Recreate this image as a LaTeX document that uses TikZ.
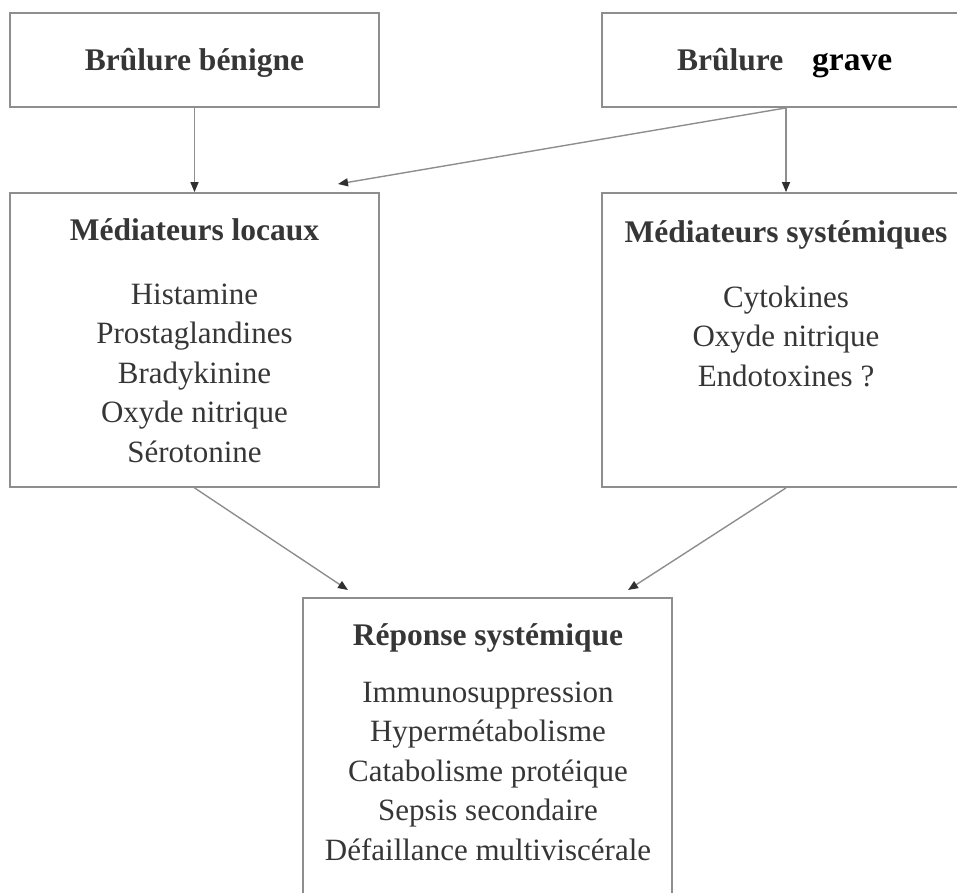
\documentclass[tikz,border=0pt]{standalone}
\usepackage{fontspec}
\setmainfont{Liberation Serif}
\usetikzlibrary{positioning, arrows.meta}
\definecolor{linegray}{HTML}{8E8E8E}
\definecolor{textgray}{HTML}{363636}
\definecolor{tipgray}{HTML}{303030}

\begin{document}
\begin{tikzpicture}[x=1pt, y=-1pt,
  box/.style={draw=linegray, line width=1.8pt, minimum width=369pt, inner sep=0pt},
  head/.style={font=\fontsize{31.5}{38}\selectfont\bfseries, text=textgray, anchor=base, inner sep=0pt},
  item/.style={font=\fontsize{31}{39.5}\selectfont, text=textgray, anchor=base, inner sep=0pt},
  link/.style={draw=linegray, line width=1.4pt, -{Triangle[length=10pt,width=8pt,color=tipgray]}}]
\useasboundingbox (0,0) rectangle (957,892);
\clip (0,0) rectangle (957,892);
% boxes
\node [box, minimum height=94pt] (benigne) at (194.5,60) {};
\node [box, minimum height=94pt, minimum width=368pt] (grave) at (786,60) {};
\node [box, minimum height=294pt] (locaux) at (194.5,340) {};
\node [box, minimum height=294pt, minimum width=368pt] (systemiques) at (786,340) {};
\node [box, minimum height=324pt] (reponse) at (487.5,760) {};
% free ends
\coordinate (locin) at (338,184);
\coordinate (repleft) at (348,590);
\coordinate (repright) at (628,590);
% arrows
\draw [link] (benigne) -- (locaux);
\draw [link] (grave) -- (systemiques);
\draw [link] (grave.south) -- (locin);
\draw [link] (locaux.south) -- (repleft);
\draw [link] (systemiques.south) -- (repright);
% texts
\node [head] (tbenigne) at (194.5,70) {Brûlure bénigne};
\node [head, anchor=base west] (tbrulure) at (677,70) {Brûlure};
\node [head, anchor=base west, text=black, font=\fontsize{33.5}{40}\selectfont\bfseries] (tgrave) at (812,70) {grave};
\node [head] (tlocaux) at (194.5,240) {Médiateurs locaux};
\node [item] (loc1) at (194.5,304) {Histamine};
\node [item] (loc2) at (194.5,343.5) {Prostaglandines};
\node [item] (loc3) at (194.5,383) {Bradykinine};
\node [item] (loc4) at (194.5,422.5) {Oxyde nitrique};
\node [item] (loc5) at (194.5,462) {Sérotonine};
\node [head] (tsyst) at (786,242) {Médiateurs systémiques};
\node [item] (sys1) at (786,307) {Cytokines};
\node [item] (sys2) at (786,346.5) {Oxyde nitrique};
\node [item] (sys3) at (786,386) {Endotoxines ?};
\node [head] (treponse) at (488,645) {Réponse systémique};
\node [item] (rep1) at (488,702) {Immunosuppression};
\node [item] (rep2) at (488,741.5) {Hypermétabolisme};
\node [item] (rep3) at (488,781) {Catabolisme protéique};
\node [item] (rep4) at (488,820.5) {Sepsis secondaire};
\node [item] (rep5) at (488,860) {Défaillance multiviscérale};
\end{tikzpicture}
\end{document}
